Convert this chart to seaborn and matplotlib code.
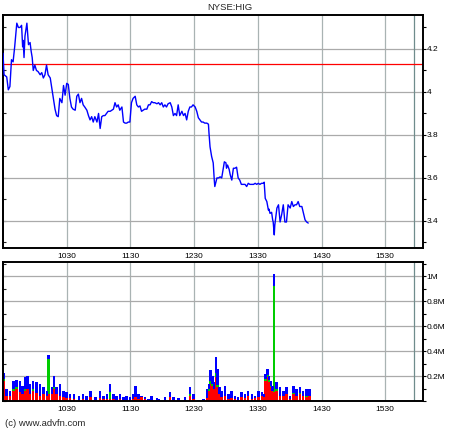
import numpy as np
import matplotlib
matplotlib.use("Agg")
import matplotlib.pyplot as plt
from matplotlib.ticker import MultipleLocator, FixedLocator, FuncFormatter
import seaborn as sns

sns.set_style("white")
plt.rcParams['font.family'] = ['Liberation Sans', 'DejaVu Sans']

# price, minutes after 09:30
price_t = [0, 1, 3.5, 5, 6.5, 8, 9.5, 11, 13, 14.5, 16, 17.5, 18.5, 19, 19.8, 20.7,
           22.5, 24, 25.5, 26.5, 27.5, 28.5, 30, 31.5, 33, 35, 36.5, 38, 39.5, 41,
           42.5, 44.5, 46, 47.5, 49, 50.5, 52, 53.5, 55.5, 57, 58.5, 60, 61.5, 63,
           64.5, 66, 68, 69.5, 71, 72.5, 74, 75.5, 77, 79, 80.5, 82, 83.5, 85, 86.5,
           88.5, 90, 91.5, 93, 94.5, 96, 97.5, 99, 101, 102.5, 104, 105.5, 107,
           108.5, 110, 112, 113.5, 115, 116.5, 118, 119.5, 121, 122.5, 124.5, 126,
           127.5, 129, 130.5, 132, 133.5, 135.5, 137, 138.5, 140, 141.5, 143, 145,
           146.5, 148, 149.5, 151, 152.5, 154, 155.5, 157.5, 159, 160.5, 162, 163.5,
           165, 166.5, 168.5, 170, 171.5, 173, 174.5, 176, 177.5, 179, 181, 182.5,
           184, 185.5, 187, 188.5, 190, 192, 193.5, 194, 195, 196.5, 198, 199, 199.5,
           201.5, 203, 204.5, 206, 207.5, 208.5, 210, 210.5, 211.5, 213, 214, 215.5,
           217, 218.5, 220, 221.5, 223, 224.5, 226.5, 228, 229.5, 231, 232.5, 234,
           236, 237.5, 239, 240.5, 242, 243.5, 245, 246, 247, 248.5, 250, 250.5,
           251.5, 253, 254, 254.5, 255.5, 256, 258, 259.5, 261, 262.5, 264, 265.5,
           267, 268.5, 270.5, 272, 273.5, 275, 276.5, 278, 279.5, 281.5, 283, 284.5,
           286, 287.5]
price = [4.18, 4.08, 4.07, 4.01, 4.025, 4.15, 4.14, 4.21, 4.32, 4.30, 4.30, 4.31, 4.21,
         4.24, 4.16, 4.26, 4.32, 4.22, 4.23, 4.19, 4.16, 4.10, 4.125, 4.10, 4.095, 4.08,
         4.09, 4.065, 4.08, 4.125, 4.08, 4.065, 4.017, 3.97, 3.92, 3.89, 3.885, 3.97,
         3.95, 4.03, 3.985, 4.04, 4.035, 3.97, 3.93, 3.92, 3.915, 3.98, 3.99, 3.95,
         3.97, 3.94, 3.93, 3.915, 3.89, 3.87, 3.885, 3.86, 3.885, 3.86, 3.90, 3.83,
         3.885, 3.89, 3.89, 3.90, 3.91, 3.91, 3.915, 3.92, 3.95, 3.93, 3.94, 3.915,
         3.93, 3.86, 3.855, 3.855, 3.86, 3.86, 3.95, 3.97, 3.98, 3.94, 3.93, 3.935,
         3.91, 3.915, 3.92, 3.92, 3.94, 3.94, 3.955, 3.95, 3.95, 3.945, 3.95, 3.94,
         3.95, 3.93, 3.94, 3.93, 3.945, 3.95, 3.93, 3.89, 3.90, 3.89, 3.94, 3.89,
         3.91, 3.89, 3.90, 3.87, 3.91, 3.93, 3.93, 3.94, 3.93, 3.91, 3.88, 3.87,
         3.86, 3.86, 3.855, 3.855, 3.85, 3.81, 3.745, 3.70, 3.67, 3.59, 3.56, 3.60,
         3.60, 3.605, 3.60, 3.645, 3.675, 3.67, 3.645, 3.66, 3.64, 3.615, 3.59, 3.645,
         3.645, 3.65, 3.60, 3.59, 3.57, 3.57, 3.57, 3.56, 3.575, 3.57, 3.57, 3.57,
         3.575, 3.57, 3.575, 3.57, 3.575, 3.575, 3.58, 3.505, 3.49, 3.45, 3.455,
         3.435, 3.44, 3.405, 3.395, 3.335, 3.38, 3.46, 3.475, 3.395, 3.43, 3.475,
         3.395, 3.395, 3.475, 3.46, 3.49, 3.467, 3.475, 3.475, 3.49, 3.467, 3.467,
         3.435, 3.405, 3.395, 3.39]
prev_close = 4.13

# volume in thousands of shares
vol_t = [1, 3.5, 6.6, 9.7, 12.9, 16, 18.5, 20.7, 23, 25.4, 28.5, 31.7, 34.9, 38, 41.2,
         42.7, 45.9, 48, 50.6, 53.7, 56.8, 60, 63, 67, 71.6, 75.6, 78.8, 82.6, 87.3,
         91.4, 94.5, 97.7, 100.8, 103.9, 107.1, 110.2, 113.3, 116.5, 119.6, 122.7, 125,
         127.5, 130.6, 133.8, 136.9, 140, 144.8, 146.3, 152.6, 157.3, 160.4, 165.1,
         171.4, 176.2, 179.3, 184, 188.7, 191.9, 194, 195.6, 197.2, 198.8, 200.4,
         201.9, 203.8, 206, 209.1, 212.2, 215.4, 218.5, 221.6, 224.8, 228, 231, 234.3,
         237.4, 240.5, 243.7, 245.9, 247.4, 249, 250.6, 252.2, 253.7, 255.3, 257.8,
         260.9, 264, 267.2, 270.3, 273.5, 276.6, 279.8, 282.8, 286, 288.5]
vol_total = [226, 97, 83, 164, 170, 164, 124, 191, 204, 137, 164, 151, 137, 110, 83,
             370, 110, 204, 110, 137, 83, 70, 56, 56, 43, 56, 43, 78, 35, 83, 43, 56,
             137, 56, 43, 56, 35, 43, 29, 56, 124, 56, 43, 29, 16, 43, 24, 16, 29, 70,
             29, 24, 29, 110, 56, 8, 16, 97, 137, 245, 204, 151, 353, 258, 110, 83, 124,
             56, 83, 43, 35, 70, 56, 83, 56, 43, 83, 70, 56, 218, 258, 204, 164, 124,
             1020, 151, 110, 83, 110, 43, 124, 97, 110, 83, 97, 97]
vol_red = [164, 43, 43, 83, 97, 70, 56, 83, 97, 56, 83, 61, 43, 56, 43, 56, 56, 97, 56,
           43, 29, 24, 24, 16, 8, 16, 8, 29, 8, 24, 13, 16, 16, 13, 8, 16, 8, 8, 8, 16,
           29, 16, 29, 13, 3, 8, 8, 8, 11, 29, 8, 5, 8, 43, 13, 3, 5, 24, 83, 137, 124,
           97, 191, 110, 56, 29, 43, 16, 24, 16, 8, 29, 24, 43, 16, 24, 29, 43, 29, 164,
           191, 151, 110, 83, 70, 83, 43, 43, 56, 16, 56, 43, 56, 43, 29, 43]
vol_green = [10, 0, 0, 10, 15, 0, 0, 15, 0, 0, 10, 0, 0, 0, 0, 283, 0, 15, 0, 0, 0, 0,
             0, 0, 0, 0, 0, 0, 0, 0, 0, 0, 55, 0, 0, 0, 0, 0, 0, 0, 0, 0, 0, 0, 0, 0, 0,
             0, 0, 0, 0, 0, 0, 15, 0, 0, 0, 0, 10, 20, 15, 0, 30, 20, 0, 0, 0, 0, 0, 0,
             0, 0, 0, 0, 0, 0, 0, 0, 0, 15, 20, 15, 10, 0, 850, 10, 0, 0, 0, 0, 10, 0,
             10, 0, 10, 0]

tick_pos = [60, 120, 180, 240, 300, 360]
tick_labels = ['1030', '1130', '1230', '1330', '1430', '1530']
close_mark = 387.5

red = np.array(vol_red) * 1000
green = np.array(vol_green) * 1000
blue = np.array(vol_total) * 1000 - red - green

W, H = 460, 430
fig = plt.figure(figsize=(W / 100, H / 100), dpi=100)
ax1 = fig.add_axes([3 / W, 1 - 248 / H, 420 / W, 233 / H])
ax2 = fig.add_axes([3 / W, 1 - 401 / H, 420 / W, 139 / H])

grid_col = '#a9b3b3'
lab = 6.0
bw = 2.3

# price panel
sns.lineplot(x=price_t, y=price, ax=ax1, color='#0000ff', lw=1.0, sort=False,
             estimator=None, zorder=3)
ax1.axhline(prev_close, color='#ff0000', lw=0.9, zorder=2)
ax1.set_ylim(3.274, 4.358)
ax1.yaxis.set_major_locator(FixedLocator([3.4, 3.6, 3.8, 4.0, 4.2]))
ax1.yaxis.set_minor_locator(MultipleLocator(0.1))
ax1.yaxis.set_major_formatter(FuncFormatter(lambda v, p: f"{v:g}"))

# volume panel
ax2.bar(vol_t, red, width=bw, color='#ff0000', lw=0, zorder=2)
ax2.bar(vol_t, green, width=bw, bottom=red, color='#00cc00', lw=0, zorder=2)
ax2.bar(vol_t, blue, width=bw, bottom=red + green, color='#0000ff', lw=0, zorder=2)
ax2.set_ylim(0, 1.116e6)
ax2.yaxis.set_major_locator(FixedLocator([2e5, 4e5, 6e5, 8e5, 1e6]))
ax2.yaxis.set_minor_locator(MultipleLocator(1e5))
ax2.yaxis.set_major_formatter(FuncFormatter(lambda v, p: f"{v / 1e6:g}M"))

for ax in (ax1, ax2):
    ax.set_xlim(0, 395.6)
    ax.set_xticks(tick_pos)
    ax.set_xticklabels(tick_labels)
    ax.set_xlabel('')
    ax.set_ylabel('')
    ax.set_axisbelow(True)
    ax.grid(axis='x', which='major', color=grid_col, lw=0.9)
    ax.grid(axis='y', which='major', color='#aaaaaa', lw=0.9)
    ax.axvline(close_mark, color='#6f8c8c', lw=0.9, zorder=1)
    for s in ax.spines.values():
        s.set_visible(True)
        s.set_color('black')
        s.set_linewidth(1.4)
    ax.tick_params(axis='x', length=0, pad=3.5, labelsize=lab, colors='black')
    ax.tick_params(axis='y', which='both', left=False, right=True, labelleft=False,
                   labelright=True, direction='out', length=2, width=0.8,
                   pad=0.6, labelsize=lab, colors='black')
    # inward ticks on the left side
    sec = ax.secondary_yaxis('left')
    sec.yaxis.set_major_locator(ax.yaxis.get_minor_locator())
    sec.tick_params(direction='in', length=2.5, width=0.8, labelleft=False)
    sec.spines['left'].set_linewidth(1.4)

fig.text(0.5, 1 - 8 / H, 'NYSE:HIG', ha='center', va='center', fontsize=6.8)
fig.text(5 / W, 1 - 423 / H, '(c) www.advfn.com', ha='left', va='center', fontsize=6.8)

fig.savefig('out.png', dpi=100)
